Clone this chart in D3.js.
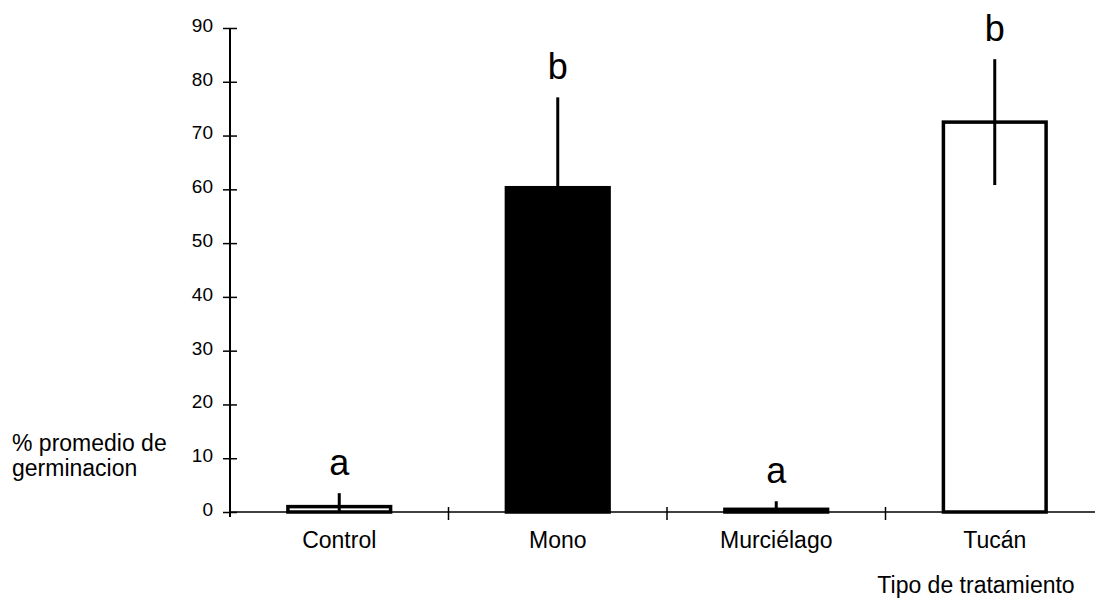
<!DOCTYPE html>
<html>
<head>
<meta charset="utf-8">
<script src="https://cdn.jsdelivr.net/npm/d3@7"></script>
<style>
  html, body { margin: 0; padding: 0; background: #fff; }
  svg { display: block; font-family: "Liberation Sans", Arial, sans-serif; }
</style>
</head>
<body>
<script>
// ---- data ----
const categories = ["Control", "Mono", "Murciélago", "Tucán"];
const means = [1.0, 60.3, 0.5, 72.5];
const errors = [2.5, 16.8, 1.5, 11.7];
const letters = ["a", "b", "a", "b"];
const fills = ["#fff", "#000", "#000", "#fff"];
const yTicks = [0, 10, 20, 30, 40, 50, 60, 70, 80, 90];
const yTitle = ["% promedio de", "germinacion"];
const xTitle = "Tipo de tratamiento";

const W = 1095, H = 606;
const svg = d3.select("body").append("svg").attr("width", W).attr("height", H);

const x = d3.scaleBand().domain(categories).range([230, 1104]).padding(0);
const y = d3.scaleLinear().domain([0, 90]).range([512, 28]);
const barW = x.bandwidth() * 0.47;

// y axis
const yAxis = d3.axisLeft(y).tickValues(yTicks).tickSize(7).tickPadding(10);
const gy = svg.append("g").attr("transform", "translate(230,0)").call(yAxis);
gy.select(".domain").remove();
gy.selectAll(".tick line").attr("x2", -7).attr("x1", 7).attr("stroke", "#000").attr("stroke-width", 1.5);
gy.selectAll(".tick text").attr("font-size", 19).attr("fill", "#000").attr("dy", "0.18em")
  .attr("font-family", "Liberation Sans, Arial, sans-serif");
svg.append("line").attr("x1", 230).attr("x2", 230).attr("y1", y(90)).attr("y2", y(0) + 5)
  .attr("stroke", "#000").attr("stroke-width", 2);

// x axis line
svg.append("line").attr("x1", 230).attr("x2", W).attr("y1", y(0)).attr("y2", y(0))
  .attr("stroke", "#000").attr("stroke-width", 1.5);
// boundary ticks
svg.selectAll("line.xt").data(categories.slice(1)).enter().append("line")
  .attr("x1", d => x(d)).attr("x2", d => x(d))
  .attr("y1", y(0) - 5).attr("y2", y(0) + 8)
  .attr("stroke", "#000").attr("stroke-width", 1.5);
// category labels
svg.selectAll("text.cat").data(categories).enter().append("text")
  .attr("x", d => x(d) + x.bandwidth() / 2).attr("y", 548)
  .attr("text-anchor", "middle").attr("font-size", 23).text(d => d);

// bars
svg.selectAll("rect.bar").data(categories).enter().append("rect")
  .attr("x", d => x(d) + (x.bandwidth() - barW) / 2)
  .attr("y", (d, i) => y(means[i]))
  .attr("width", barW)
  .attr("height", (d, i) => y(0) - y(means[i]))
  .attr("fill", (d, i) => fills[i])
  .attr("stroke", "#000").attr("stroke-width", 3.5);

// error bars
svg.selectAll("line.err").data(categories).enter().append("line")
  .attr("x1", d => x(d) + x.bandwidth() / 2).attr("x2", d => x(d) + x.bandwidth() / 2)
  .attr("y1", (d, i) => y(Math.max(0, means[i] - errors[i])))
  .attr("y2", (d, i) => y(means[i] + errors[i]))
  .attr("stroke", "#000").attr("stroke-width", 3);

// significance letters
svg.selectAll("text.sig").data(categories).enter().append("text")
  .attr("x", d => x(d) + x.bandwidth() / 2)
  .attr("y", (d, i) => y(means[i] + errors[i]) - 18)
  .attr("text-anchor", "middle").attr("font-size", 36).text((d, i) => letters[i]);

// y title
svg.append("text").attr("x", 12).attr("y", 451).attr("font-size", 23)
  .selectAll("tspan").data(yTitle).enter().append("tspan")
  .attr("x", 12).attr("dy", (d, i) => i === 0 ? 0 : 25).text(d => d);

// x title
svg.append("text").attr("x", 976).attr("y", 593).attr("text-anchor", "middle")
  .attr("font-size", 23).text(xTitle);
</script>
</body>
</html>
